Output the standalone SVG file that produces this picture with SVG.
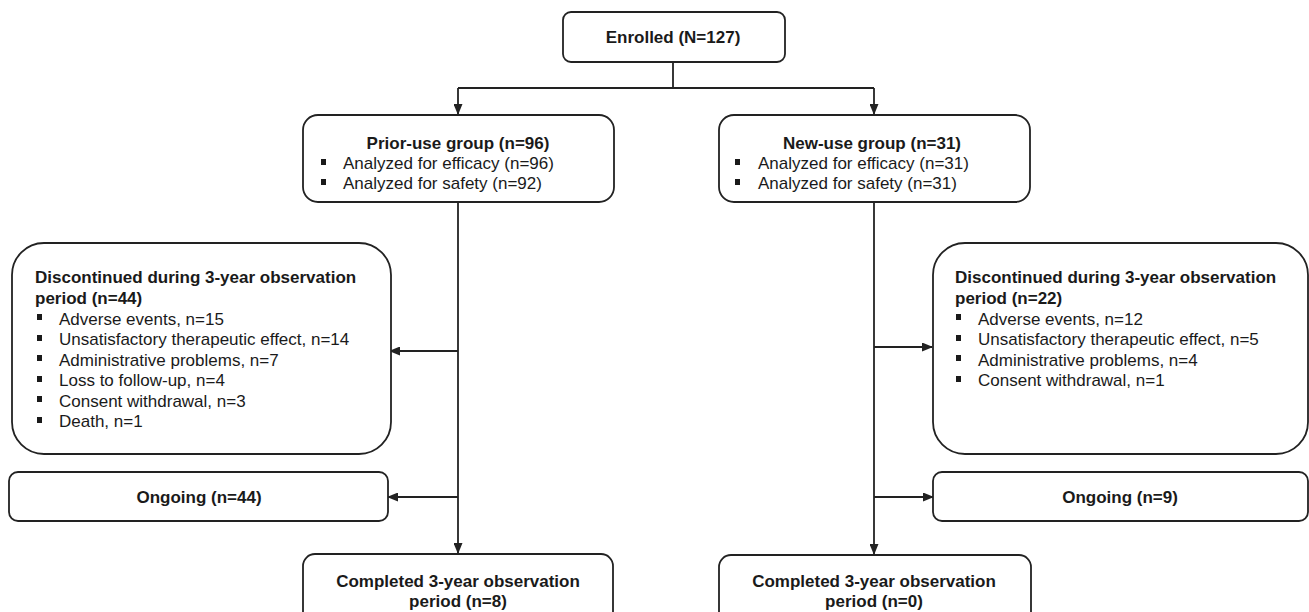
<svg xmlns="http://www.w3.org/2000/svg" width="1309" height="612" viewBox="0 0 1309 612">
<style>
.box{fill:#fff;stroke:#222;stroke-width:1.8}
.t{font-family:"Liberation Sans",Arial,sans-serif;font-size:17px;fill:#1a1a1a}
.b{font-weight:bold}
.c{text-anchor:middle}
.bl{fill:#1a1a1a}
.ln{fill:none;stroke:#222;stroke-width:1.8}
</style>
<defs>
<marker id="arr" markerWidth="11" markerHeight="9" refX="10" refY="4.5" orient="auto" markerUnits="userSpaceOnUse">
<path d="M0,0 L11,4.5 L0,9 z" fill="#222"/>
</marker>
</defs>
<rect width="1309" height="612" fill="#fff"/>
<g id="connectors">
<path class="ln" d="M673,62 V88"/>
<path class="ln" d="M458,88 H874"/>
<path class="ln" d="M458,88 V114" marker-end="url(#arr)"/>
<path class="ln" d="M874,88 V114" marker-end="url(#arr)"/>
<path class="ln" d="M458,202 V553" marker-end="url(#arr)"/>
<path class="ln" d="M874,202 V554" marker-end="url(#arr)"/>
<path class="ln" d="M458,351 H390" marker-end="url(#arr)"/>
<path class="ln" d="M458,497 H388" marker-end="url(#arr)"/>
<path class="ln" d="M874,347 H932" marker-end="url(#arr)"/>
<path class="ln" d="M874,497 H933" marker-end="url(#arr)"/>
</g>
<g id="enrolled">
<rect class="box" x="563" y="12" width="222" height="50" rx="8"/>
<text class="t b c" x="673" y="43">Enrolled (N=127)</text>
</g>
<g id="prior-use">
<rect class="box" x="303" y="115" width="311" height="87" rx="15"/>
<text class="t b c" x="458" y="149">Prior-use group (n=96)</text>
<rect class="bl" x="321" y="159" width="5" height="6"/>
<text class="t" x="343" y="169">Analyzed for efficacy (n=96)</text>
<rect class="bl" x="321" y="179" width="5" height="6"/>
<text class="t" x="343" y="189">Analyzed for safety (n=92)</text>
</g>
<g id="new-use">
<rect class="box" x="719" y="115" width="311" height="87" rx="15"/>
<text class="t b c" x="872" y="149">New-use group (n=31)</text>
<rect class="bl" x="735" y="159" width="5" height="6"/>
<text class="t" x="758" y="169">Analyzed for efficacy (n=31)</text>
<rect class="bl" x="735" y="179" width="5" height="6"/>
<text class="t" x="758" y="189">Analyzed for safety (n=31)</text>
</g>
<g id="discontinued-prior">
<rect class="box" x="12" y="243" width="379" height="211" rx="32"/>
<text class="t b" x="35" y="283">Discontinued during 3-year observation</text>
<text class="t b" x="35" y="303.5">period (n=44)</text>
<rect class="bl" x="37" y="314" width="5" height="6"/>
<text class="t" x="59" y="324.5">Adverse events, n=15</text>
<rect class="bl" x="37" y="335" width="5" height="6"/>
<text class="t" x="59" y="345">Unsatisfactory therapeutic effect, n=14</text>
<rect class="bl" x="37" y="355" width="5" height="6"/>
<text class="t" x="59" y="365.5">Administrative problems, n=7</text>
<rect class="bl" x="37" y="376" width="5" height="6"/>
<text class="t" x="59" y="386">Loss to follow-up, n=4</text>
<rect class="bl" x="37" y="396" width="5" height="6"/>
<text class="t" x="59" y="406.5">Consent withdrawal, n=3</text>
<rect class="bl" x="37" y="417" width="5" height="6"/>
<text class="t" x="59" y="427">Death, n=1</text>
</g>
<g id="ongoing-prior">
<rect class="box" x="9" y="472" width="379" height="49" rx="9"/>
<text class="t b c" x="199" y="503">Ongoing (n=44)</text>
</g>
<g id="completed-prior">
<rect class="box" x="303" y="554" width="310" height="70" rx="12"/>
<text class="t b c" x="458" y="587">Completed 3-year observation</text>
<text class="t b c" x="458" y="607">period (n=8)</text>
</g>
<g id="discontinued-new">
<rect class="box" x="933" y="243" width="375" height="211" rx="32"/>
<text class="t b" x="955" y="283">Discontinued during 3-year observation</text>
<text class="t b" x="955" y="303.5">period (n=22)</text>
<rect class="bl" x="956" y="314" width="5" height="6"/>
<text class="t" x="978" y="324.5">Adverse events, n=12</text>
<rect class="bl" x="956" y="335" width="5" height="6"/>
<text class="t" x="978" y="345">Unsatisfactory therapeutic effect, n=5</text>
<rect class="bl" x="956" y="355" width="5" height="6"/>
<text class="t" x="978" y="365.5">Administrative problems, n=4</text>
<rect class="bl" x="956" y="376" width="5" height="6"/>
<text class="t" x="978" y="386">Consent withdrawal, n=1</text>
</g>
<g id="ongoing-new">
<rect class="box" x="933" y="472" width="375" height="49" rx="9"/>
<text class="t b c" x="1120" y="503">Ongoing (n=9)</text>
</g>
<g id="completed-new">
<rect class="box" x="719" y="555" width="312" height="70" rx="12"/>
<text class="t b c" x="874" y="587">Completed 3-year observation</text>
<text class="t b c" x="874" y="607">period (n=0)</text>
</g>
</svg>
